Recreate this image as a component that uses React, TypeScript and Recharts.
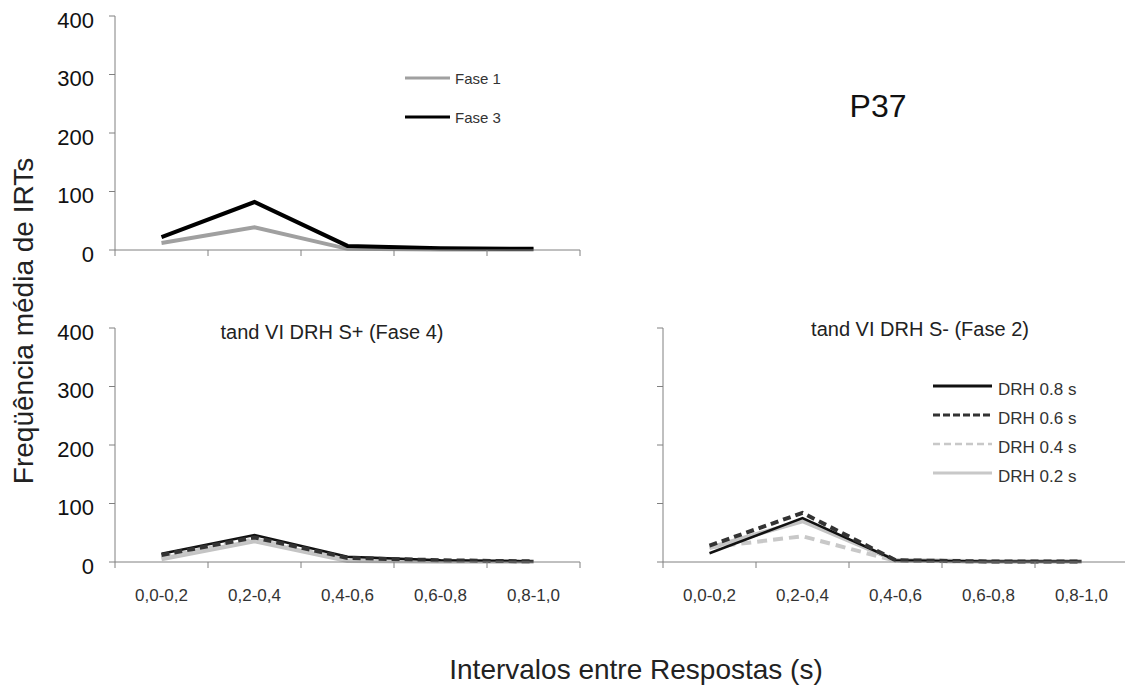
import { LineChart, Line, XAxis, YAxis } from 'recharts';

const FONT = '"Liberation Sans", Arial, sans-serif';
const AXIS = '#808080';

const categories = ['0,0-0,2', '0,2-0,4', '0,4-0,6', '0,6-0,8', '0,8-1,0'];
const yTicks = [0, 100, 200, 300, 400];

// top panel
const fase1 = [12, 39, 2, 1, 1];
const fase3 = [22, 82, 7, 3, 2];

// tand VI DRH S+ (Fase 4)
const sPlus08 = [14, 46, 9, 3, 1];
const sPlus06 = [12, 42, 7, 3, 1];
const sPlus04 = [8, 39, 4, 2, 1];
const sPlus02 = [5, 36, 2, 1, 1];

// tand VI DRH S- (Fase 2)
const sMinus08 = [15, 75, 3, 1, 1];
const sMinus06 = [28, 84, 3, 1, 1];
const sMinus04 = [25, 44, 2, 1, 1];
const sMinus02 = [24, 70, 3, 1, 1];

const xTicks = categories.flatMap((_, i) => [i, i + 0.5]).concat(categories.length);

const topData = categories.map((cat, i) => ({ x: i + 0.5, cat, fase1: fase1[i], fase3: fase3[i] }));
const plusData = categories.map((cat, i) => ({
  x: i + 0.5, cat, d08: sPlus08[i], d06: sPlus06[i], d04: sPlus04[i], d02: sPlus02[i],
}));
const minusData = categories.map((cat, i) => ({
  x: i + 0.5, cat, d08: sMinus08[i], d06: sMinus06[i], d04: sMinus04[i], d02: sMinus02[i],
}));

const topSeries = [
  { key: 'fase1', name: 'Fase 1', color: '#a0a0a0', width: 4, dash: undefined },
  { key: 'fase3', name: 'Fase 3', color: '#000000', width: 4, dash: undefined },
];

// drawing order (bottom to top)
const drhSeries = [
  { key: 'd02', name: 'DRH 0.2 s', color: '#c4c4c4', width: 4.5, dash: undefined },
  { key: 'd04', name: 'DRH 0.4 s', color: '#c8c8c8', width: 4, dash: '10 6' },
  { key: 'd08', name: 'DRH 0.8 s', color: '#111111', width: 2.5, dash: undefined },
  { key: 'd06', name: 'DRH 0.6 s', color: '#333333', width: 4, dash: '8 5' },
];

const legendDrh = [
  { name: 'DRH 0.8 s', color: '#111111', width: 3, dash: undefined },
  { name: 'DRH 0.6 s', color: '#333333', width: 3, dash: '7 3' },
  { name: 'DRH 0.4 s', color: '#c8c8c8', width: 2.5, dash: '7 4' },
  { name: 'DRH 0.2 s', color: '#c8c8c8', width: 3, dash: undefined },
];

const XTick = ({ x, y, payload, showLabel }: any) => {
  const v = payload.value;
  if (Number.isInteger(v)) {
    return <line x1={x} x2={x} y1={y} y2={y + 6} stroke={AXIS} strokeWidth={1} />;
  }
  if (!showLabel) return <g />;
  return (
    <text x={x} y={y + 39} textAnchor="middle" fontSize={17} fill="#333" fontFamily={FONT}>
      {categories[Math.floor(v)]}
    </text>
  );
};

function Panel({ data, series, height, top, showXLabels, showYLabels }: any) {
  return (
    <LineChart
      width={600}
      height={height}
      data={data}
      margin={{ top, right: 20, bottom: 0, left: 0 }}
    >
      <XAxis
        dataKey="x"
        type="number"
        domain={[0, categories.length]}
        ticks={xTicks}
        interval={0}
        height={height - top - 234 > 0 ? height - top - 234 : 30}
        axisLine={{ stroke: AXIS }}
        tickLine={false}
        tickSize={0}
        tickMargin={0}
        tick={(p: any) => <XTick {...p} showLabel={showXLabels} />}
      />
      <YAxis
        type="number"
        domain={[0, 400]}
        ticks={yTicks}
        interval={0}
        width={115}
        axisLine={{ stroke: AXIS }}
        tickLine={{ stroke: AXIS }}
        tickSize={6}
        tickMargin={15}
        tick={{ fontSize: 22, fill: '#111', fontFamily: FONT, dy: 4 }}
        tickFormatter={(v: number) => (showYLabels ? String(v) : '')}
      />
      {series.map((s: any) => (
        <Line
          key={s.key}
          dataKey={s.key}
          name={s.name}
          type="linear"
          stroke={s.color}
          strokeWidth={s.width}
          strokeDasharray={s.dash}
          dot={false}
          activeDot={false}
          isAnimationActive={false}
        />
      ))}
    </LineChart>
  );
}

export default function App() {
  return (
    <div
      style={{
        position: 'absolute',
        left: 0,
        top: 0,
        width: 1125,
        height: 687,
        overflow: 'hidden',
        background: '#fff',
        fontFamily: FONT,
      }}
    >
      <div style={{ position: 'absolute', left: 0, top: 0 }}>
        <Panel data={topData} series={topSeries} height={290} top={16} showXLabels={false} showYLabels />
      </div>
      <div style={{ position: 'absolute', left: 0, top: 300 }}>
        <Panel data={plusData} series={drhSeries} height={310} top={28} showXLabels showYLabels />
      </div>
      <div style={{ position: 'absolute', left: 548, top: 300 }}>
        <Panel data={minusData} series={drhSeries} height={310} top={28} showXLabels showYLabels={false} />
      </div>

      <svg
        width={1125}
        height={687}
        style={{ position: 'absolute', left: 0, top: 0, pointerEvents: 'none' }}
        fontFamily={FONT}
      >
        <text transform="translate(33,321) rotate(-90)" textAnchor="middle" fontSize={28} fill="#222">
          Freqüência média de IRTs
        </text>
        <text x={636} y={679} textAnchor="middle" fontSize={28} fill="#222">
          Intervalos entre Respostas (s)
        </text>
        <text x={878} y={117} textAnchor="middle" fontSize={32} fill="#111">
          P37
        </text>
        <text x={332} y={339} textAnchor="middle" fontSize={20} fill="#222">
          tand VI DRH S+ (Fase 4)
        </text>
        <text x={920} y={336} textAnchor="middle" fontSize={20} fill="#222">
          tand VI DRH S- (Fase 2)
        </text>

        {topSeries.map((s, i) => (
          <g key={s.key}>
            <line x1={405} x2={450} y1={78 + i * 39} y2={78 + i * 39} stroke={s.color} strokeWidth={3} />
            <text x={455} y={84 + i * 39} fontSize={15} fill="#333">
              {s.name}
            </text>
          </g>
        ))}

        {legendDrh.map((s, i) => (
          <g key={s.name}>
            <line
              x1={933}
              x2={992}
              y1={386 + i * 29}
              y2={386 + i * 29}
              stroke={s.color}
              strokeWidth={s.width}
              strokeDasharray={s.dash}
            />
            <text x={998} y={395 + i * 29} fontSize={17} fill="#333">
              {s.name}
            </text>
          </g>
        ))}
      </svg>
    </div>
  );
}
